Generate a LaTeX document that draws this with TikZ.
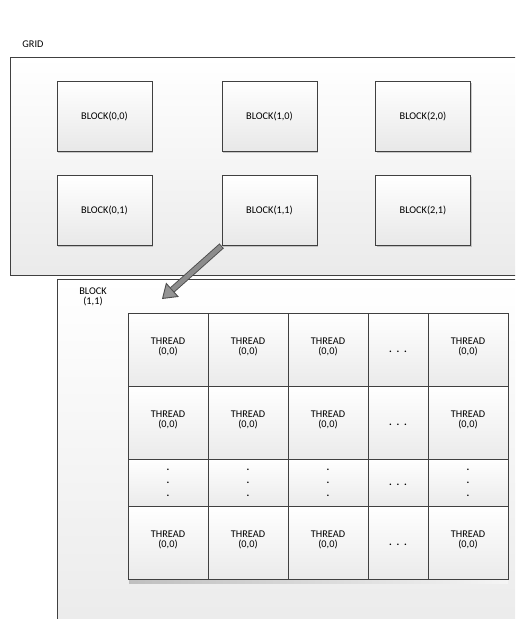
\documentclass[tikz,border=0pt]{standalone}
\usepackage{fontspec}
\setmainfont{Carlito}
\usetikzlibrary{arrows.meta,shadows}

\begin{document}
\begin{tikzpicture}[x=1pt,y=-1pt,font=\fontsize{10.3}{10}\selectfont]
  \tikzstyle{panel}=[draw=black!75,line width=0.8pt,top color=white,bottom color=black!8]
  \tikzstyle{block}=[draw=black!75,line width=0.7pt,top color=white,bottom color=black!9,minimum width=95pt,minimum height=70pt,inner sep=0pt,drop shadow={shadow xshift=1pt,shadow yshift=-1.5pt,fill=black!40}]
  \tikzstyle{thread}=[draw=black!75,line width=0.7pt,top color=white,bottom color=black!8,minimum width=80pt,minimum height=73pt,inner sep=0pt,align=center]
  \tikzstyle{hdots}=[thread,minimum width=60pt]
  \tikzstyle{vdots}=[thread,minimum height=47pt]
  \tikzstyle{dots}=[thread,minimum width=60pt,minimum height=47pt]
  \useasboundingbox (0,0) rectangle (515,619);
  \clip (0,0) rectangle (515,619);
  % grid
  \node (gridlabel) at (33,44) {GRID};
  \draw[panel] (10,57) rectangle (540,275);
  \node[block] (b00) at (104.5,116) {BLOCK(0,0)};
  \node[block] (b10) at (269.5,116) {BLOCK(1,0)};
  \node[block] (b20) at (423,116)   {BLOCK(2,0)};
  \node[block] (b01) at (104.5,210.5) {BLOCK(0,1)};
  \node[block] (b11) at (269.5,210.5) {BLOCK(1,1)};
  \node[block] (b21) at (423,210.5)   {BLOCK(2,1)};
  % block (1,1)
  \draw[panel] (57,279) rectangle (540,640);
  \node[align=center] (blocklabel) at (93,297) {BLOCK\\(1,1)};
  \fill[left color=black!25,right color=black!4] (129,579) rectangle (508,583);
  \node[thread] (t00) at (168,349.5) {THREAD\\(0,0)\\[-4pt]};
  \node[thread] (t10) at (248,349.5) {THREAD\\(0,0)\\[-4pt]};
  \node[thread] (t20) at (328,349.5) {THREAD\\(0,0)\\[-4pt]};
  \node[hdots]  (t30) at (398,349.5) {\raisebox{-3pt}[0pt][0pt]{\textbf{.\ \ .\ \ .}}};
  \node[thread] (t40) at (468,349.5) {THREAD\\(0,0)\\[-4pt]};
  \node[thread] (t01) at (168,422.5) {THREAD\\(0,0)\\[-4pt]};
  \node[thread] (t11) at (248,422.5) {THREAD\\(0,0)\\[-4pt]};
  \node[thread] (t21) at (328,422.5) {THREAD\\(0,0)\\[-4pt]};
  \node[hdots]  (t31) at (398,422.5) {\raisebox{-3pt}[0pt][0pt]{\textbf{.\ \ .\ \ .}}};
  \node[thread] (t41) at (468,422.5) {THREAD\\(0,0)\\[-4pt]};
  \node[vdots]  (t02) at (168,482.5) {\textbf{.}\\[3pt]\textbf{.}\\[3pt]\textbf{.}};
  \node[vdots]  (t12) at (248,482.5) {\textbf{.}\\[3pt]\textbf{.}\\[3pt]\textbf{.}};
  \node[vdots]  (t22) at (328,482.5) {\textbf{.}\\[3pt]\textbf{.}\\[3pt]\textbf{.}};
  \node[dots]   (t32) at (398,482.5) {\raisebox{-3pt}[0pt][0pt]{\textbf{.\ \ .\ \ .}}};
  \node[vdots]  (t42) at (468,482.5) {\textbf{.}\\[3pt]\textbf{.}\\[3pt]\textbf{.}};
  \node[thread] (t03) at (168,542.5) {THREAD\\(0,0)\\[-4pt]};
  \node[thread] (t13) at (248,542.5) {THREAD\\(0,0)\\[-4pt]};
  \node[thread] (t23) at (328,542.5) {THREAD\\(0,0)\\[-4pt]};
  \node[hdots]  (t33) at (398,542.5) {\raisebox{-3pt}[0pt][0pt]{\textbf{.\ \ .\ \ .}}};
  \node[thread] (t43) at (468,542.5) {THREAD\\(0,0)\\[-4pt]};
  % zoom arrow
  \coordinate (tip) at (162,299);
  \draw[line width=6.5pt,black!70,-{Triangle[length=14pt,width=19pt,fill=black!42,line width=0.9pt]}] (b11.south west) -- (tip);
  \draw[line width=4.7pt,black!45,shorten >=14pt,shorten <=0.9pt] (b11.south west) -- (tip);
\end{tikzpicture}
\end{document}
